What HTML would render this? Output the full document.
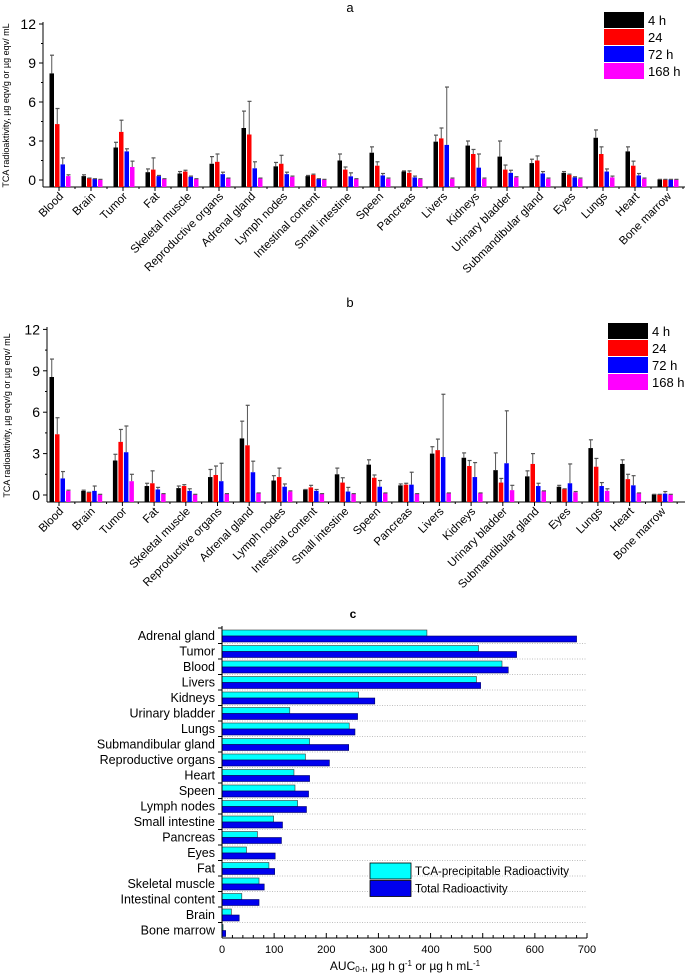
<!DOCTYPE html>
<html><head><meta charset="utf-8">
<style>
body{margin:0;background:#fff;}
svg{display:block;font-family:"Liberation Sans",sans-serif;}
</style></head>
<body>
<svg id="chart" width="686" height="976" viewBox="0 0 686 976">
<g id="pa"></g>
<g id="pb"></g>
<g id="pc"></g>
</svg>
<script>
const organs = ["Blood","Brain","Tumor","Fat","Skeletal muscle","Reproductive organs","Adrenal gland","Lymph nodes","Intestinal content","Small intestine","Speen","Pancreas","Livers","Kidneys","Urinary bladder","Submandibular gland","Eyes","Lungs","Heart","Bone marrow"];
const seriesNames = ["4 h","24","72 h","168 h"];
const seriesColors = ["#000000","#ff0000","#0000ff","#ff00ff"];
const yTicks = [0,3,6,9,12];
// Panel a values
const a4h   = [8.2,0.3,2.5,0.6,0.5,1.25,4.0,1.05,0.3,1.5,2.1,0.65,2.95,2.65,1.8,1.3,0.55,3.25,2.2,0.05];
const a24   = [4.3,0.15,3.7,0.8,0.65,1.4,3.5,1.25,0.4,0.8,1.1,0.55,3.2,2.0,0.8,1.5,0.4,2.0,1.1,0.05];
const a72   = [1.2,0.1,2.2,0.3,0.25,0.45,0.9,0.45,0.1,0.28,0.35,0.2,2.7,0.95,0.55,0.5,0.2,0.65,0.35,0.05];
const a168  = [0.3,0.05,1.0,0.1,0.1,0.15,0.15,0.25,0.05,0.1,0.1,0.1,0.1,0.1,0.2,0.1,0.1,0.2,0.1,0.05];
const a4hE  = [9.6,0.4,2.9,0.85,0.65,1.8,5.3,1.35,0.35,2.0,2.55,0.7,3.45,3.0,3.0,1.6,0.65,3.85,2.55,0.05];
const a24E  = [5.5,0.15,4.6,1.7,0.75,2.0,6.05,1.9,0.45,1.0,1.4,0.7,4.0,2.35,1.15,1.85,0.45,2.55,1.45,0.05];
const a72E  = [1.7,0.1,2.4,0.35,0.3,0.6,1.4,0.6,0.1,0.55,0.5,0.3,7.15,2.0,0.75,0.65,0.25,0.85,0.5,0.05];
const a168E = [0.4,0.05,1.45,0.1,0.1,0.15,0.15,0.3,0.05,0.1,0.15,0.1,0.15,0.15,0.25,0.15,0.15,0.3,0.15,0.05];
// Panel b values
const b4h   = [8.55,0.3,2.5,0.65,0.5,1.3,4.1,1.05,0.4,1.5,2.2,0.7,3.0,2.7,1.8,1.35,0.6,3.4,2.25,0.05];
const b24   = [4.4,0.2,3.85,0.85,0.65,1.45,3.6,1.3,0.55,0.9,1.25,0.75,3.25,2.1,0.9,2.25,0.45,2.05,1.15,0.05];
const b72   = [1.2,0.3,3.1,0.4,0.3,1.0,1.65,0.6,0.3,0.25,0.6,0.75,2.75,1.3,2.3,0.65,0.85,0.65,0.7,0.1];
const b168  = [0.3,0.05,1.0,0.1,0.05,0.1,0.15,0.25,0.1,0.1,0.15,0.1,0.15,0.15,0.35,0.3,0.2,0.3,0.15,0.05];
const b4hE  = [9.85,0.35,2.95,0.85,0.65,1.85,5.35,1.4,0.4,1.95,2.55,0.8,3.5,3.05,3.05,1.75,0.7,4.0,2.55,0.05];
const b24E  = [5.6,0.2,4.75,1.75,0.75,2.1,6.5,1.95,0.7,1.25,1.45,0.85,7.3,2.5,1.2,3.0,0.45,2.65,1.5,0.05];
const b72E  = [1.7,0.65,5.0,0.55,0.45,2.3,2.45,0.8,0.4,0.55,1.05,1.65,7.3,2.35,6.1,0.85,2.25,0.9,1.4,0.25];
const b168E = [0.35,0.05,1.5,0.1,0.05,0.1,0.15,0.3,0.1,0.1,0.15,0.1,0.15,0.15,0.7,0.3,0.25,0.45,0.15,0.05];
// fix: livers 24 error in b is ~4.05
b24E[12] = 4.05;
// Panel c values
const cOrgans = ["Adrenal gland","Tumor","Blood","Livers","Kidneys","Urinary bladder","Lungs","Submandibular gland","Reproductive organs","Heart","Speen","Lymph nodes","Small intestine","Pancreas","Eyes","Fat","Skeletal muscle","Intestinal content","Brain","Bone marrow"];
const cTCA   = [393,492,537,488,262,130,244,168,160,138,140,145,99,68,47,90,71,38,18,2];
const cTotal = [680,565,549,496,293,260,255,243,206,168,166,162,116,114,102,101,81,71,33,7];
const cTicks = [0,100,200,300,400,500,600,700];

const NS="http://www.w3.org/2000/svg";
function mk(parent,tag,attrs,text){const e=document.createElementNS(NS,tag);for(const k in attrs)e.setAttribute(k,attrs[k]);if(text!==undefined)e.textContent=text;parent.appendChild(e);return e;}

function barPanel(g, cfg, vals, errs, title){
  const {axX, yTop, y0, ppu, axisY, x0, dx} = cfg;
  const yS = v => y0 - v*ppu;
  const xS = i => x0 + dx*i;
  let t = mk(g,'text',{x:350,y:cfg.titleY,'font-size':13,'text-anchor':'middle'},title);
  
  
  // y axis
  let ya = mk(g,'line',{x1:axX,y1:yTop-2,x2:axX,y2:axisY,stroke:'#000','stroke-width':1});
  
  
  yTicks.forEach(v=>{
    mk(g,'line',{x1:axX-4,y1:yS(v),x2:axX,y2:yS(v),stroke:'#000'});
    if(v<12) mk(g,'line',{x1:axX-2,y1:yS(v+1.5),x2:axX,y2:yS(v+1.5),stroke:'#000'});
    let tl = mk(g,'text',{x:axX-7,y:yS(v)+5,'font-size':14,'text-anchor':'end'},String(v));
    
    
  });
  let yt = mk(g,'text',{x:0,y:0,'font-size':9,'text-anchor':'middle',transform:`translate(${cfg.ytX},${(yTop+axisY)/2}) rotate(-90)`},'TCA radioaktivity, µg eqv/g or µg eqv/ mL');
  
  
  // x axis
  let xa = mk(g,'line',{x1:axX,y1:axisY,x2:685,y2:axisY,stroke:'#000'});
  
  
  organs.forEach((o,i)=>{
    const cx = xS(i);
    mk(g,'line',{x1:cx,y1:axisY,x2:cx,y2:axisY+4,stroke:'#000'});
    mk(g,'line',{x1:cx+dx/2,y1:axisY,x2:cx+dx/2,y2:axisY+2,stroke:'#000'});
    const offs=[-9.5,-4,1.5,7];
    vals.forEach((s,k)=>{
      const bx=cx+offs[k], top=yS(s[i]);
      let r = mk(g,'rect',{x:bx,y:Math.min(top,axisY),width:4.5,height:Math.max(axisY-top,0.5),fill:seriesColors[k]});
      
      
      const et=yS(errs[k][i]);
      if(et<top-0.5){
        mk(g,'line',{x1:bx+2.25,y1:et,x2:bx+2.25,y2:top,stroke:'#555','stroke-width':1});
      }
      mk(g,'line',{x1:bx+0.5,y1:Math.min(et,top),x2:bx+4.5,y2:Math.min(et,top),stroke:'#555','stroke-width':1.2});
    });
    let lb = mk(g,'text',{x:0,y:0,'font-size':11.5,'text-anchor':'end',transform:`translate(${cx+5},${axisY+10}) rotate(-45)`},o);
    
    
  });
  // legend
  seriesNames.forEach((n,k)=>{
    const ly=cfg.legY+k*17;
    let lr = mk(g,'rect',{x:cfg.legX,y:ly,width:40,height:16,fill:seriesColors[k]});
    
    
    let lt = mk(g,'text',{x:cfg.legX+44,y:ly+13,'font-size':13},n);
    
    
  });
}
barPanel(document.getElementById('pa'),{axX:43,yTop:24,y0:180,ppu:13,axisY:187,x0:59,dx:32,ytX:9,titleY:12,legX:604,legY:12},[a4h,a24,a72,a168],[a4hE,a24E,a72E,a168E],'a');
barPanel(document.getElementById('pb'),{axX:47,yTop:329,y0:495,ppu:13.8,axisY:502,x0:59,dx:31.7,ytX:10,titleY:307,legX:608,legY:323},[b4h,b24,b72,b168],[b4hE,b24E,b72E,b168E],'b');

// Panel c
(function(){
  const g=document.getElementById('pc');
  const x0=222, ppu=365/700, top=628, rowH=15.5, axisY=938;
  const xS=v=>x0+v*ppu;
  let t = mk(g,'text',{x:353,y:618,'font-size':12,'font-weight':'bold','text-anchor':'middle'},'c');
  
  
  cOrgans.forEach((o,i)=>{
    const ry=top+i*rowH;
    mk(g,'line',{x1:x0,y1:ry+rowH,x2:587,y2:ry+rowH,stroke:'#aaa','stroke-dasharray':'1,1.5','stroke-width':0.8});
    mk(g,'line',{x1:x0-4,y1:ry,x2:x0,y2:ry,stroke:'#000'});
    let r1 = mk(g,'rect',{x:x0,y:ry+2,width:xS(cTCA[i])-x0,height:6,fill:'#00ffff',stroke:'#333','stroke-width':0.6});
    
    
    let r2 = mk(g,'rect',{x:x0,y:ry+8,width:xS(cTotal[i])-x0,height:6,fill:'#0000ee',stroke:'#000066','stroke-width':0.6});
    
    
    let lb = mk(g,'text',{x:x0-7,y:ry+12,'font-size':12.5,'text-anchor':'end'},o);
    
    
  });
  let ya = mk(g,'line',{x1:x0,y1:top-2,x2:x0,y2:axisY,stroke:'#000'});
  
  
  let xa = mk(g,'line',{x1:x0,y1:axisY,x2:587,y2:axisY,stroke:'#000'});
  
  
  cTicks.forEach(v=>{
    mk(g,'line',{x1:xS(v),y1:axisY,x2:xS(v),y2:axisY-5,stroke:'#000'});
    if(v<700) for(let m=20;m<100;m+=20) mk(g,'line',{x1:xS(v+m),y1:axisY,x2:xS(v+m),y2:axisY-3,stroke:'#000'});
    let tl = mk(g,'text',{x:xS(v),y:axisY+15,'font-size':11,'text-anchor':'middle'},String(v));
    
    
  });
  let xt = mk(g,'text',{x:405,y:970,'font-size':12,'text-anchor':'middle'});
  
  
  xt.innerHTML='AUC<tspan font-size="8" dy="2">0-t</tspan><tspan dy="-2">, µg h g</tspan><tspan font-size="8" dy="-4">-1</tspan><tspan dy="4"> or µg h mL</tspan><tspan font-size="8" dy="-4">-1</tspan>';
  const leg=[['TCA-precipitable Radioactivity','#00ffff'],['Total Radioactivity','#0000ee']];
  leg.forEach((l,k)=>{
    const ly=863+k*17.5;
    let lr = mk(g,'rect',{x:370,y:ly,width:41,height:16,fill:l[1],stroke:'#000','stroke-width':0.8});
    
    
    let lt = mk(g,'text',{x:415,y:ly+12,'font-size':11.5},l[0]);
    
    
  });
})();
</script>
</body></html>
